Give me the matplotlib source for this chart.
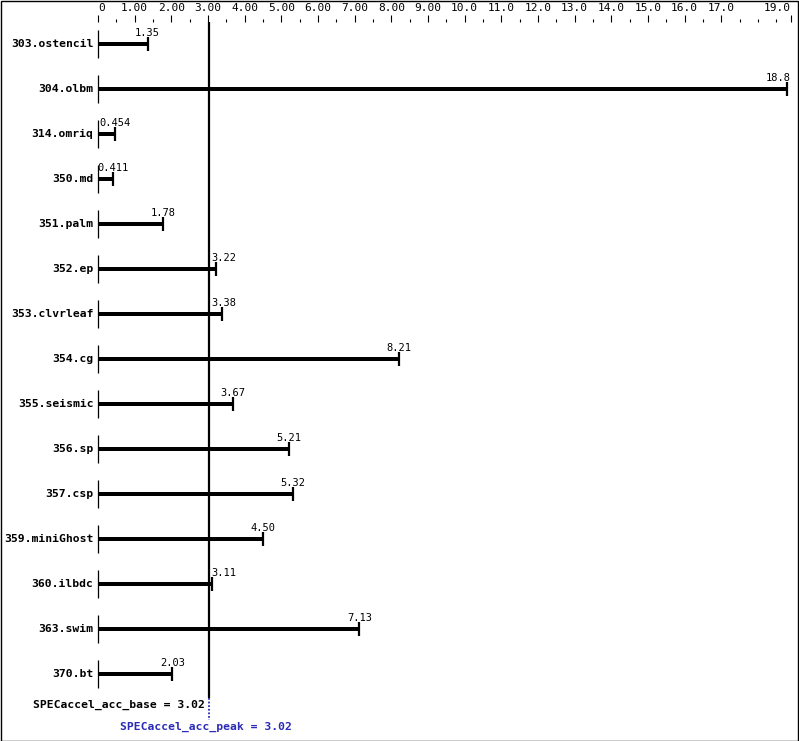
import matplotlib.pyplot as plt
from matplotlib.patches import Rectangle

benchmarks = ["303.ostencil", "304.olbm", "314.omriq", "350.md", "351.palm",
              "352.ep", "353.clvrleaf", "354.cg", "355.seismic", "356.sp",
              "357.csp", "359.miniGhost", "360.ilbdc", "363.swim", "370.bt"]
base_ratio = [1.35, 18.8, 0.454, 0.411, 1.78, 3.22, 3.38, 8.21, 3.67, 5.21,
              5.32, 4.50, 3.11, 7.13, 2.03]
value_text = ["1.35", "18.8", "0.454", "0.411", "1.78", "3.22", "3.38", "8.21",
              "3.67", "5.21", "5.32", "4.50", "3.11", "7.13", "2.03"]
base_score = 3.02
peak_score = 3.02
axis_max = 18.9
major_ticks = list(range(0, 18)) + [axis_max]
tick_labels = ["0", "1.00", "2.00", "3.00", "4.00", "5.00", "6.00", "7.00",
               "8.00", "9.00", "10.0", "11.0", "12.0", "13.0", "14.0", "15.0",
               "16.0", "17.0", "19.0"]
minor_ticks = [i * 0.5 for i in range(1, 38) if i % 2 == 1] + [18.0]

W, H = 799, 741
fig = plt.figure(figsize=(W / 100, H / 100), dpi=100)
ax = fig.add_axes([98 / W, 0, 693 / W, (H - 22) / H])
ax.set_xlim(0, axis_max)
ax.set_ylim((H - 44) / 45, -22 / 45)
for s in ax.spines.values():
    s.set_visible(False)

mono = "DejaVu Sans Mono"
blue = "#2b2bb5"

ax.xaxis.tick_top()
ax.set_xticks(major_ticks)
ax.set_xticklabels(tick_labels, family=mono, fontsize=8)
ax.set_xticks(minor_ticks, minor=True)
ax.tick_params(which="major", length=5, width=0.8, pad=1.5, top=True)
ax.tick_params(which="minor", length=2.3, width=0.8, top=True)
labels = ax.get_xticklabels()
labels[0].set_ha("left")
labels[-1].set_ha("right")
ax.set_yticks([])

rows = list(range(len(benchmarks)))
ax.barh(rows, base_ratio, height=0.1, color="black")
ax.vlines(base_ratio, [r - 0.15 for r in rows], [r + 0.15 for r in rows],
          color="black", linewidth=1.6)
ax.vlines([0] * len(rows), [r - 0.32 for r in rows], [r + 0.32 for r in rows],
          color="black", linewidth=0.9, clip_on=False)

half = 0.34
for r, name, v, t in zip(rows, benchmarks, base_ratio, value_text):
    ax.text(-0.12, r, name, ha="right", va="center", family=mono,
            fontweight="bold", fontsize=8.2, clip_on=False)
    cx = v
    if v > base_score:
        cx = max(cx, base_score + 0.06 + half)
    else:
        cx = max(cx, 0.06 + half)
    cx = min(cx, axis_max - half)
    ax.text(cx, r - 0.245, t, ha="center", va="center", family=mono,
            fontsize=7.5)

ax.vlines(base_score, -22 / 45, (698 - 44) / 45, color="black", linewidth=1.6,
          clip_on=False)
ax.vlines(peak_score, (698 - 44) / 45, (720 - 44) / 45, color=blue,
          linewidth=1.3, linestyles=(0, (1, 1)), clip_on=False)
ax.text(base_score - 0.1, (705 - 44) / 45, f"SPECaccel_acc_base = {base_score:.2f}",
        ha="right", va="center", family=mono, fontweight="bold", fontsize=8.2)
ax.text(0.6, (727 - 44) / 45, f"SPECaccel_acc_peak = {peak_score:.2f}",
        ha="left", va="center", family=mono, fontweight="bold", fontsize=8.2,
        color=blue)

fig.patches.append(Rectangle((0.5 / W, 0.5 / H), (W - 1.5) / W, (H - 1.5) / H,
                             transform=fig.transFigure, fill=False,
                             edgecolor="black", linewidth=1))

fig.savefig("out.png", dpi=100)
